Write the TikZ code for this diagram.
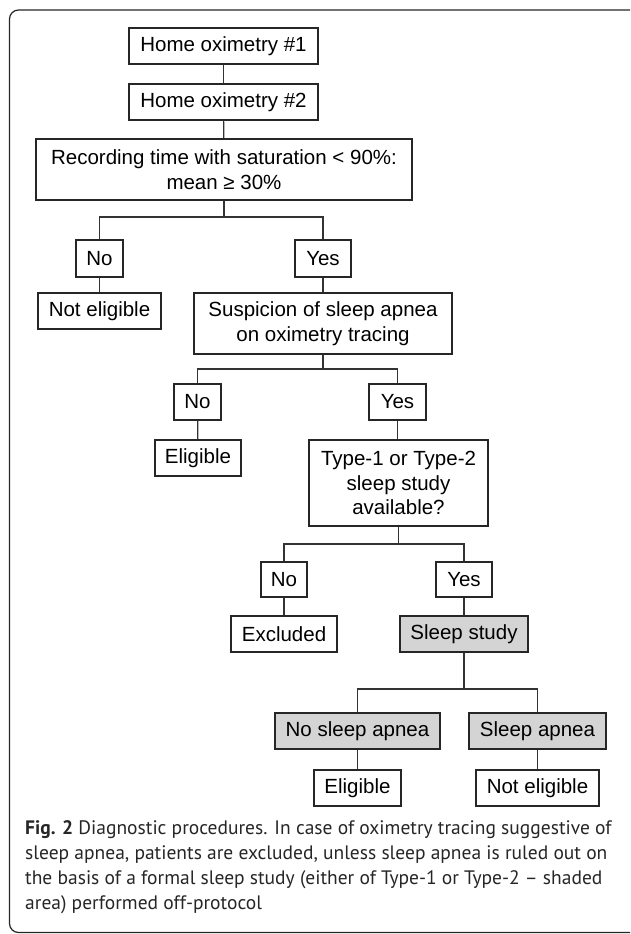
\documentclass[tikz,border=0pt]{standalone}
\usepackage{fontspec}
\setmainfont{Liberation Sans}
\newfontfamily\capfont{PT Sans}
\begin{document}
\begin{tikzpicture}[x=1pt,y=-1pt,
  box/.style={draw=black!85, line width=1.2pt, inner sep=0pt, align=center,
    font=\fontsize{20.5}{24.5}\selectfont, text=black},
  shaded/.style={box, fill=black!17},
  conn/.style={draw=black!80, line width=1.2pt}]
\useasboundingbox (0,0) rectangle (630,934);
\begin{scope}
\clip (0,0) rectangle (630,934);
\draw[black!85, line width=1.2pt, rounded corners=9pt] (9.5,10) rectangle (640,932.5);
\end{scope}
% nodes
\node[box, minimum width=189pt, minimum height=36pt] (h1) at (223.5,46) {Home oximetry \#1};
\node[box, minimum width=189pt, minimum height=36pt] (h2) at (223.5,102) {Home oximetry \#2};
\node[box, minimum width=376pt, minimum height=61pt] (rec) at (224,169.5) {Recording time with saturation < 90\%:\\mean ≥ 30\%};
\node[box, minimum width=47pt, minimum height=37pt] (no1) at (99.5,258.5) {No};
\node[box, minimum width=56pt, minimum height=37pt] (yes1) at (323,258.5) {Yes};
\node[box, minimum width=123pt, minimum height=36pt] (ne1) at (99.5,311) {Not eligible};
\node[box, minimum width=258pt, minimum height=61pt] (sus) at (323,323.5) {Suspicion of sleep apnea\\on oximetry tracing};
\node[box, minimum width=47pt, minimum height=36pt] (no2) at (197.5,402) {No};
\node[box, minimum width=57pt, minimum height=36pt] (yes2) at (397.5,402) {Yes};
\node[box, minimum width=86pt, minimum height=36pt] (el1) at (198,458) {Eligible};
\node[box, minimum width=179pt, minimum height=86pt] (typ) at (398.5,483) {Type-1 or Type-2\\sleep study\\available?};
\node[box, minimum width=46pt, minimum height=35pt] (no3) at (284,579.5) {No};
\node[box, minimum width=56pt, minimum height=35pt] (yes3) at (464,579.5) {Yes};
\node[box, minimum width=106pt, minimum height=36pt] (exc) at (284,634) {Excluded};
\node[shaded, minimum width=128pt, minimum height=36pt] (ss) at (464,634) {Sleep study};
\node[shaded, minimum width=165pt, minimum height=36pt] (nsa) at (357.5,731) {No sleep apnea};
\node[shaded, minimum width=137pt, minimum height=36pt] (sa) at (537.5,731) {Sleep apnea};
\node[box, minimum width=87pt, minimum height=36pt] (el2) at (357.5,788) {Eligible};
\node[box, minimum width=123pt, minimum height=36pt] (ne2) at (537.5,788) {Not eligible};
% branch levels
\coordinate (b1) at (0,217);
\coordinate (b2) at (0,369);
\coordinate (b3) at (0,544);
\coordinate (b4) at (0,689);
% connectors
\draw[conn] (h1) -- (h2);
\draw[conn] (h2) -- (rec);
\draw[conn] (rec.south) -- (rec.south |- b1) -| (no1.north);
\draw[conn] (rec.south |- b1) -| (yes1.north);
\draw[conn] (no1) -- (ne1);
\draw[conn] (yes1) -- (sus);
\draw[conn] (sus.south) -- (sus.south |- b2) -| (no2.north);
\draw[conn] (sus.south |- b2) -| (yes2.north);
\draw[conn] (no2) -- (el1);
\draw[conn] (yes2.south) -- (yes2.south |- typ.north);
\draw[conn] (typ.south) -- (typ.south |- b3) -| (no3.north);
\draw[conn] (typ.south |- b3) -| (yes3.north);
\draw[conn] (no3) -- (exc);
\draw[conn] (yes3) -- (ss);
\draw[conn] (ss.south) -- (ss.south |- b4) -| (nsa.north);
\draw[conn] (ss.south |- b4) -| (sa.north);
\draw[conn] (nsa) -- (el2);
\draw[conn] (sa) -- (ne2);
% caption
\node[anchor=north west, inner sep=0pt, align=left, text=black!85,
  font=\capfont\fontsize{19.5}{25}\selectfont] (cap) at (25,820)
  {\textbf{Fig. 2} Diagnostic procedures. In case of oximetry tracing suggestive of\\
   sleep apnea, patients are excluded, unless sleep apnea is ruled out on\\
   the basis of a formal sleep study (either of Type-1 or Type-2 – shaded\\
   area) performed off-protocol};
\end{tikzpicture}
\end{document}
